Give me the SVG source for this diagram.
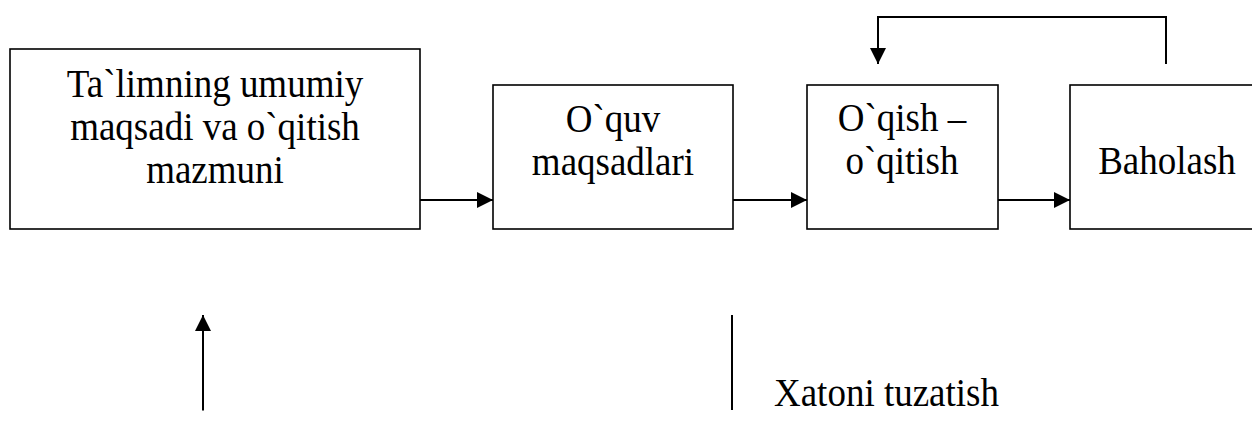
<svg xmlns="http://www.w3.org/2000/svg" width="1252" height="445" viewBox="0 0 1252 445">
<style>
.box{fill:#fff;stroke:#000;stroke-width:1.6}
.t{font-family:"Liberation Serif","Times New Roman",serif;font-size:37px;fill:#000}
.c{text-anchor:middle}
.ln{fill:none;stroke:#000;stroke-width:2}
</style>
<defs>
<marker id="ah" markerUnits="userSpaceOnUse" markerWidth="17" markerHeight="17" viewBox="0 0 17 17" refX="16" refY="8" orient="auto">
<path d="M0,0 L16,8 L0,16 Z" fill="#000"/>
</marker>
</defs>
<rect width="1252" height="445" fill="#fff"/>
<g id="node-talim">
<rect class="box" x="10" y="49" width="410" height="180"/>
<text class="t c" transform="translate(215,97) scale(1,1.1)">Ta`limning umumiy</text>
<text class="t c" transform="translate(215,140) scale(1,1.1)">maqsadi va o`qitish</text>
<text class="t c" transform="translate(215,183) scale(1,1.1)">mazmuni</text>
</g>
<g id="node-oquv">
<rect class="box" x="493" y="85" width="240" height="144"/>
<text class="t c" transform="translate(613,132) scale(1,1.1)">O`quv</text>
<text class="t c" transform="translate(613,175) scale(1,1.1)">maqsadlari</text>
</g>
<g id="node-oqish">
<rect class="box" x="807" y="85" width="191" height="144"/>
<text class="t c" transform="translate(902,131) scale(1,1.1)">O`qish –</text>
<text class="t c" transform="translate(902,174) scale(1,1.1)">o`qitish</text>
</g>
<g id="node-baholash">
<rect class="box" x="1070" y="85" width="195" height="144"/>
<text class="t c" transform="translate(1167,174) scale(1,1.1)">Baholash</text>
</g>
<g id="node-xato">
<text class="t" transform="translate(774,406) scale(1,1.1)">Xatoni tuzatish</text>
</g>
<g id="connectors">
<line class="ln" x1="420" y1="200" x2="493" y2="200" marker-end="url(#ah)"/>
<line class="ln" x1="733" y1="200" x2="807" y2="200" marker-end="url(#ah)"/>
<line class="ln" x1="998" y1="200" x2="1070" y2="200" marker-end="url(#ah)"/>
<polyline class="ln" points="1166,64 1166,17 878,17 878,64" marker-end="url(#ah)"/>
<line class="ln" x1="203" y1="410.5" x2="203" y2="315" marker-end="url(#ah)"/>
<line class="ln" x1="732" y1="315" x2="732" y2="410"/>
</g>
</svg>
